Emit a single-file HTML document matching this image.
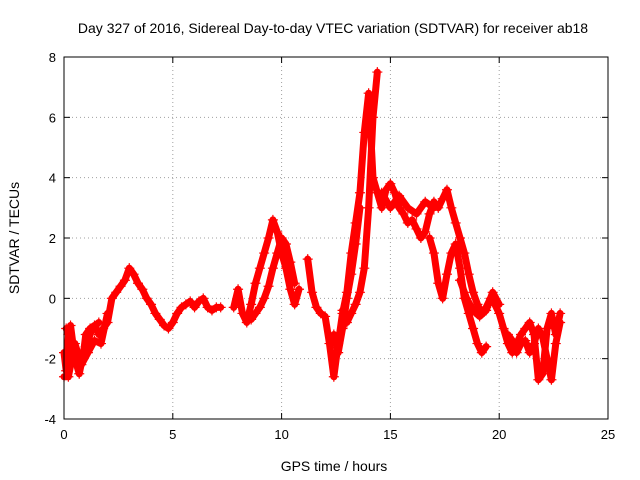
<!DOCTYPE html>
<html><head><meta charset="utf-8"><style>
body{margin:0;background:#fff;}
svg{display:block;font-family:"Liberation Sans",sans-serif;}
</style></head><body>
<svg id="chart" width="640" height="480">
<text x="333" y="33" text-anchor="middle" font-size="14">Day 327 of 2016, Sidereal Day-to-day VTEC variation (SDTVAR) for receiver ab18</text>
<text x="334" y="471" text-anchor="middle" font-size="14">GPS time / hours</text>
<text transform="translate(19,238) rotate(-90)" text-anchor="middle" font-size="14">SDTVAR / TECUs</text>
<g id="grid"></g><g id="ticks"></g><g id="marks"></g>
<rect x="64" y="57" width="544" height="362" fill="none" stroke="#000"/>
</svg>
<script>
const xTicks=[0,5,10,15,20,25];
const yTicks=[-4,-2,0,2,4,6,8];
const mainT=[0,0.1,0.2,0.3,0.5,0.7,0.9,1.0,1.2,1.4,1.6,1.8,2.0,2.2,2.4,2.6,2.8,3.0,3.2,3.4,3.6,3.8,4.0,4.2,4.4,4.6,4.8,5.0,5.2,5.4,5.6,5.8,6.0,6.2,6.4,6.6,6.8,7.0,7.2];
const mainV=[-1.8,-2.4,-1.2,-0.9,-2.0,-2.5,-1.8,-1.2,-1.0,-0.9,-1.2,-1.0,-0.8,0.0,0.2,0.4,0.6,1.0,0.8,0.5,0.3,0.0,-0.2,-0.5,-0.7,-0.9,-1.0,-0.8,-0.5,-0.3,-0.2,-0.1,-0.3,-0.1,0.0,-0.3,-0.4,-0.3,-0.3];
const midT=[7.8,8.0,8.2,8.4,8.6,8.8,9.0,9.2,9.4,9.6,9.8,10.0,10.2,10.4,10.6,10.8];
const midV=[-0.3,0.3,-0.5,-0.8,-0.2,0.5,1.0,1.5,2.0,2.6,2.2,1.5,1.0,0.3,-0.2,0.3];
const lateT=[11.2,11.4,11.6,11.8,12.0,12.2,12.4,12.6,12.8,13.0,13.2,13.4,13.6,13.8,14.0,14.2,14.4,14.6,14.8,15.0,15.2,15.4,15.6,15.8,16.0,16.2,16.4,16.6,16.8,17.0,17.2,17.4,17.6,17.8,18.0,18.2,18.4,18.6,18.8,19.0,19.2,19.4,19.6,19.8,20.0,20.2,20.4,20.6,20.8,21.0,21.2,21.4,21.6,21.8,22.0,22.2,22.4,22.6,22.8];
const lateV=[1.3,0.2,-0.3,-0.5,-0.6,-1.5,-2.6,-1.5,-0.5,0.2,1.5,2.5,3.5,5.5,6.8,4.0,3.5,3.0,3.6,3.8,3.5,3.0,2.8,2.5,2.6,2.3,2.0,2.2,2.8,3.2,3.0,3.3,3.6,3.0,2.5,2.0,1.5,0.8,0.2,-0.2,-0.5,-0.3,0.0,-0.2,-0.5,-1.0,-1.5,-1.8,-1.5,-1.2,-1.0,-0.8,-1.2,-2.7,-2.5,-1.0,-0.5,-1.2,-0.5];
const b1T=[8.6,8.8,9.0,9.2,9.4,9.6,9.8,10.0,10.2,10.4,10.6];
const b1V=[-0.7,-0.5,-0.3,0.0,0.4,1.0,1.5,2.0,1.8,1.2,0.5];
const b2T=[12.8,13.0,13.2,13.4,13.6,13.8,14.0,14.2,14.4];
const b2V=[-0.4,-0.8,-0.5,-0.2,0.2,1.0,3.0,6.0,7.5];
const b3T=[16.8,17.0,17.2,17.4,17.6,17.8,18.0,18.2,18.4,18.6,18.8,19.0,19.2,19.4];
const b3V=[2.0,1.5,0.5,0.0,0.8,1.5,1.8,1.0,0.0,-0.5,-1.0,-1.5,-1.8,-1.6];
const b4T=[20.4,20.6,20.8,21.0,21.2,21.4,21.6,21.8,22.0,22.2,22.4,22.6,22.8];
const b4V=[-1.2,-1.4,-1.8,-1.5,-1.4,-1.8,-1.5,-1.0,-1.3,-2.0,-2.7,-1.5,-0.8];
const b5T=[14.6,15.0,15.4,15.8,16.2,16.6,17.0];
const b5V=[3.5,3.0,3.4,3.0,2.8,3.2,3.0];
const b6T=[0.0,0.2,0.5,0.8,1.1,1.4,1.7,2.0];
const b6V=[-2.6,-2.6,-1.5,-2.2,-1.8,-1.4,-1.5,-0.5];
const b7T=[12.4,12.6,12.8,13.0,13.2,13.4,13.6];
const b7V=[-1.2,-1.8,-1.0,0.0,0.8,1.8,3.0];
const b8T=[18.2,18.5,18.8,19.1,19.4,19.7,20.0];
const b8V=[0.6,0.0,-0.4,-0.6,-0.4,0.2,-0.2];
const b9T=[0.1,0.4,0.7,1.0,1.3,1.6];
const b9V=[-1.0,-1.6,-2.2,-1.6,-1.0,-0.8];

const NS='http://www.w3.org/2000/svg';
const X0=64,X1=608,Y0=419,Y1=57;
function sx(v){return X0+(v-0)/(25-0)*(X1-X0);}
function sy(v){return Y0-(v+4)/(12)*(Y0-Y1);}
function mk(tag,attrs,parent){const e=document.createElementNS(NS,tag);for(const k in attrs)e.setAttribute(k,attrs[k]);parent.appendChild(e);return e;}
const grid=document.getElementById('grid'),ticks=document.getElementById('ticks'),marks=document.getElementById('marks');
xTicks.forEach(t=>{const x=sx(t);
 if(t>0&&t<25){const g=mk('line',{x1:x,x2:x,y1:Y0,y2:Y1,stroke:'#a0a0a0','stroke-dasharray':'1,3'},grid);
 
 }
 mk('line',{x1:x,x2:x,y1:Y0,y2:Y0-6,stroke:'#000'},ticks);
 mk('line',{x1:x,x2:x,y1:Y1,y2:Y1+6,stroke:'#000'},ticks);
 const l=mk('text',{x:x,y:Y0+20,'text-anchor':'middle','font-size':'13'},ticks);l.textContent=t;
 
 });
yTicks.forEach(t=>{const y=sy(t);
 if(t>-4&&t<8){const g=mk('line',{x1:X0,x2:X1,y1:y,y2:y,stroke:'#a0a0a0','stroke-dasharray':'1,3'},grid);
 
 }
 mk('line',{x1:X0,x2:X0+6,y1:y,y2:y,stroke:'#000'},ticks);
 mk('line',{x1:X1,x2:X1-6,y1:y,y2:y,stroke:'#000'},ticks);
 const l=mk('text',{x:X0-8,y:y+5,'text-anchor':'end','font-size':'13'},ticks);l.textContent=t;
 
 });
const series=[[mainT,mainV],[midT,midV],[lateT,lateV],[b1T,b1V],[b2T,b2V],[b3T,b3V],[b4T,b4V],[b5T,b5V],[b6T,b6V],[b7T,b7V],[b8T,b8V],[b9T,b9V]];
series.forEach(([T,V])=>{
 const pts=T.map((t,i)=>sx(t)+','+sy(V[i])).join(' ');
 const pl=mk('polyline',{points:pts,fill:'none',stroke:'#f00','stroke-width':'7','stroke-linejoin':'round','stroke-linecap':'round'},marks);
 
 
 T.forEach((t,i)=>{const x=sx(t),y=sy(V[i]);
  const p=mk('path',{d:`M${x-5},${y}H${x+5}M${x},${y-5}V${y+5}`,stroke:'#f00','stroke-width':'1.2'},marks);
  
  });
});
</script>
</body></html>
